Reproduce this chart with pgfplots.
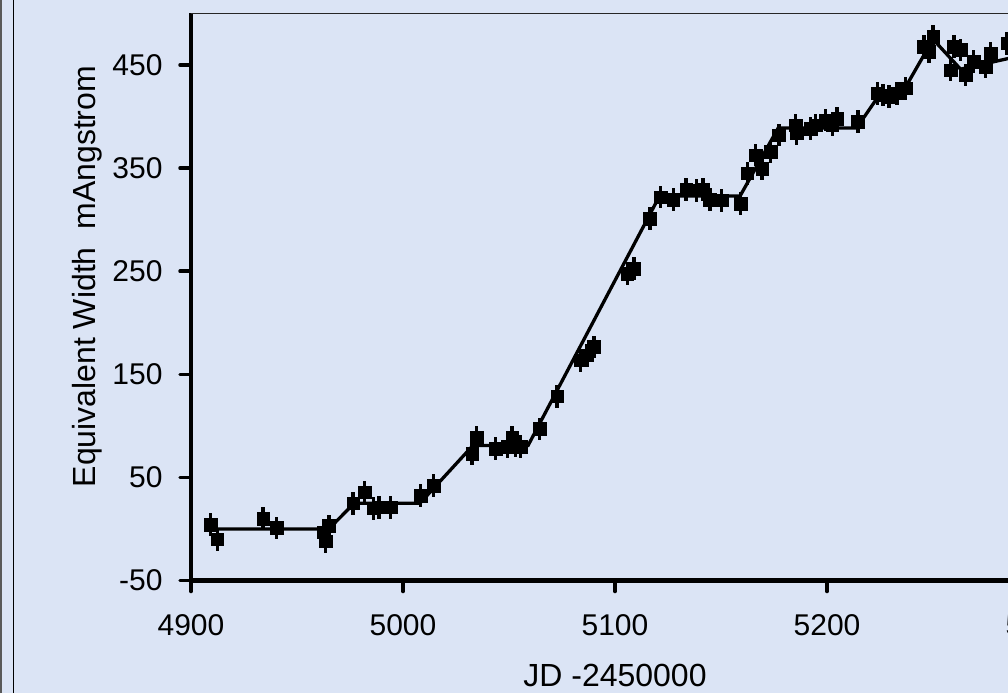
\documentclass[border=0pt]{standalone}
\usepackage{pgfplots}
\pgfplotsset{compat=1.18}
\usepackage{fontspec}
\setmainfont{Liberation Sans}
\definecolor{bg}{RGB}{219,228,245}

\begin{document}
\begin{tikzpicture}[x=1pt,y=1pt]
\useasboundingbox (0,0) rectangle (1008,693);
\clip (0,0) rectangle (1008,693);
\fill[bg] (0,0) rectangle (1008,693);
\draw[line width=2pt, black!65] (1,0) -- (1,693);
\draw[line width=1.5pt, black] (13.5,0) -- (13.5,693);
\begin{axis}[
  at={(191pt,112.5pt)}, anchor=south west,
  scale only axis, width=848pt, height=567pt,
  xmin=4900, xmax=5300, ymin=-50, ymax=500,
  axis x line*=bottom, axis y line*=left,
  axis line style={line width=4.5pt, -},
  tick align=outside,
  major tick length=11pt,
  tick style={line width=3.5pt, black, line cap=round},
  xtick={4900,5000,5100,5200,5300},
  ytick={-50,50,150,250,350,450},
  minor tick num=0,
  ticklabel style={font=\fontsize{30}{36}\selectfont},
  xticklabel style={yshift=-20pt},
  yticklabel style={xshift=-14pt},
  /pgf/number format/assume math mode=true,
  /pgf/number format/1000 sep={},
  xlabel={JD -2450000},
  ylabel={Equivalent Width~~mAngstrom},
  label style={font=\fontsize{32}{38}\selectfont},
  xlabel style={at={(axis description cs:0.5,-0.1684)}, anchor=center},
  ylabel style={at={(axis description cs:-0.1226,0.536)}, anchor=center},
  clip=false,
]
\draw[line width=1.8pt, black!85] (rel axis cs:0,1) -- (rel axis cs:1,1);
\addplot[line width=3.3pt, black, no markers] coordinates {
(4907,0) (4965,0) (4977,25) (5008,25) (5033,81) (5059,81) (5121,323)
(5159,323) (5177,389) (5214,389) (5224,419) (5238,432) (5250,475)
(5263,446) (5300,463)
};
\addplot[only marks, mark=square*, mark size=6.3pt, black,
  error bars/.cd, y dir=both, y fixed=11,
  error bar style={line width=3.5pt}, error mark=none] coordinates {
(4909.2,4.4) (4912.4,-10) (4934,10) (4940.3,1) (4962.6,-3) (4963.4,-12)
(4965,3) (4976.5,25) (4981.8,35.7) (4986.2,20) (4988.6,21) (4994.1,21)
(5008.3,32.5) (5014.5,42) (5032.6,73) (5034.7,89) (5043.6,78) (5049.2,80)
(5051.5,89) (5053,81) (5055.4,80) (5064.5,97) (5072.7,128.6) (5083.7,163.6)
(5086.9,168.4) (5090,176.5) (5105.8,247.8) (5108.9,252.6) (5116.4,301.2)
(5121.5,322) (5127.5,319.6) (5133.6,329.3) (5138.4,328.6) (5141.6,329.3)
(5144.7,319.6) (5150.2,318.9) (5159.2,315.7) (5162.4,345) (5166.3,362.6)
(5169.4,349.7) (5173.3,365.8) (5177.3,382) (5185.1,391.7) (5185.6,383.7)
(5192.2,388.5) (5194.6,391.7) (5199.3,396.6) (5202.5,391.7) (5204.8,398.2)
(5214.5,395) (5223.7,422.5) (5226.5,420.9) (5229.2,419.2) (5233.1,422.5)
(5237,427.4) (5245.7,467.8) (5248,463) (5250.1,477.5) (5258.3,445.1)
(5259.8,467.8) (5263,464.6) (5265.3,440.3) (5269.2,453.2) (5274.8,448.4)
(5277.1,461.3) (5285,471)
};
\end{axis}
\end{tikzpicture}
\end{document}
